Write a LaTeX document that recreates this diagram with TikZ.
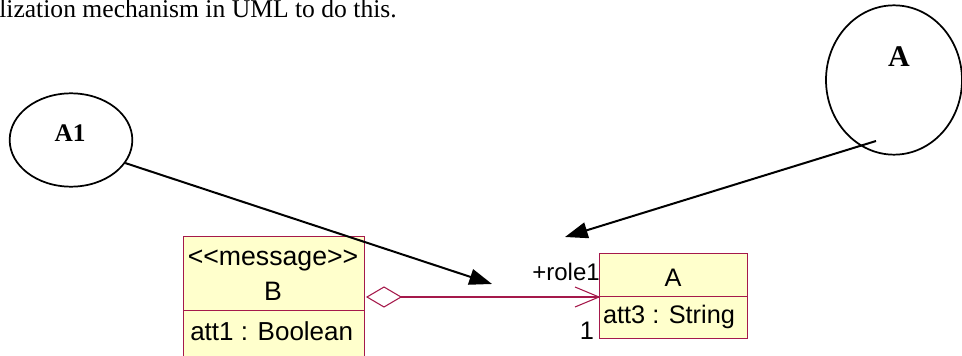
\documentclass[tikz,border=0pt]{standalone}
\usepackage{graphicx}
\usepackage{fontspec}
\setmainfont{Liberation Serif}
\setsansfont{Liberation Sans}
\usetikzlibrary{arrows.meta,shapes.geometric}
\definecolor{umlfill}{RGB}{255,255,204}
\definecolor{umlline}{RGB}{165,25,75}
\tikzset{
  circ/.style={draw=black,line width=1.3pt,ellipse,inner sep=0pt},
  blab/.style={font=\fontsize{19pt}{21pt}\selectfont\bfseries\rmfamily,inner sep=0pt},
  cbox/.style={draw=umlline,fill=umlfill,line width=0.8pt,rectangle,inner sep=0pt,anchor=north west},
  ctext/.style={font=\fontsize{19pt}{21pt}\selectfont\sffamily,inner sep=0pt},
  blackarrow/.style={draw=black,line width=1.5pt,-{Triangle[length=17pt,width=12pt]}},
  assoc/.style={draw=umlline,line width=0.8pt}
}
\begin{document}
\begin{tikzpicture}[x=0.75pt,y=-0.75pt]
\useasboundingbox (0,0) rectangle (962,356);
% top text
\node[anchor=base west,inner sep=0pt,font=\fontsize{19.2pt}{21pt}\selectfont\rmfamily] (top) at (-1,18) {lization mechanism in UML to do this.};
% circles
\node[circ,minimum width=92pt,minimum height=70pt] (ca1) at (71,140) {};
\node[blab] (la1) at (70,133) {A1};
\node[circ,minimum width=102pt,minimum height=112pt] (ca) at (894,80) {};
\node[blab,font=\fontsize{22.5pt}{24pt}\selectfont\bfseries\rmfamily] (la) at (899,57) {A};
% class B
\node[cbox,minimum width=135.75pt,minimum height=55.5pt] (bh) at (183,236) {};
\node[cbox,minimum width=135.75pt,minimum height=35pt] (bb) at (183,310) {};
\node[ctext,font=\fontsize{20pt}{22pt}\selectfont\sffamily] (bst) at (273,260) {<{}<message>{}>};
\node[ctext,font=\fontsize{20pt}{22pt}\selectfont\sffamily] (bn) at (273,291) {B};
\node[ctext,anchor=west,font=\fontsize{19.5pt}{21pt}\selectfont\sffamily] (ba) at (190,331) {att1 : Boolean};
% class A
\node[cbox,minimum width=111pt,minimum height=32.25pt] (ah) at (599,253) {};
\node[cbox,minimum width=111pt,minimum height=31.5pt] (ab) at (599,296) {};
\node[ctext] (an) at (673,278) {A};
\node[ctext] (aa) at (669,317) {att3 : String};
% association
\coordinate (dl) at (367,297);
\coordinate (dt) at (384,287);
\coordinate (dr) at (401,297);
\coordinate (db) at (384,307);
\coordinate (ae) at (599,297);
\draw[assoc] (dl) -- (dt) -- (dr) -- (db) -- cycle;
\draw[assoc] (dr) -- (ae);
\draw[assoc] (575,287) -- (ae) -- (575,307);
\node[ctext,anchor=east,font=\fontsize{18pt}{20pt}\selectfont\sffamily] (role) at (600,272) {+role1};
\node[ctext] (mult) at (587,331) {1};
% black arrows
\coordinate (t1) at (492,284);
\coordinate (s2) at (876,141);
\coordinate (t2) at (565,237);
\draw[blackarrow] (ca1.-23) -- (t1);
\draw[blackarrow] (s2) -- (t2);
\end{tikzpicture}
\end{document}
